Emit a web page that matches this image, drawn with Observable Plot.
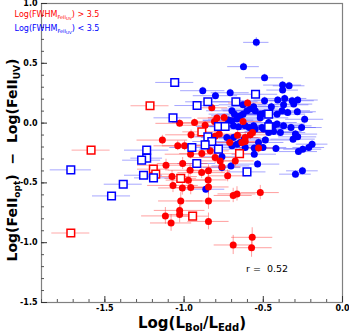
<!DOCTYPE html>
<html><head><meta charset="utf-8">
<script src="https://cdn.jsdelivr.net/npm/d3@7"></script>
<script src="https://cdn.jsdelivr.net/npm/@observablehq/plot@0.6"></script>
<style>body{margin:0;background:#fff} svg{font-family:"DejaVu Sans",sans-serif;background:#fff}</style>
</head><body><div id="chart"></div>
<script>
// [x, y, xerr, yerr]
const redCircles = [
[-0.825,0.128,0.10,0.03],[-0.599,0.168,0.12,0.03],[-1.028,-0.002,0.15,0.03],[-0.934,0.005,0.14,0.03],
[-0.867,-0.018,0.15,0.03],[-0.793,0.042,0.12,0.03],[-0.747,0.047,0.10,0.03],[-0.628,0.013,0.12,0.03],
[-0.956,-0.098,0.16,0.04],[-0.778,-0.092,0.14,0.04],[-0.804,-0.109,0.12,0.04],[-0.712,-0.162,0.12,0.04],
[-0.663,-0.101,0.12,0.04],[-0.582,-0.098,0.12,0.04],[-0.635,-0.162,0.10,0.04],[-1.137,-0.142,0.16,0.04],
[-1.040,-0.190,0.15,0.04],[-0.997,-0.190,0.14,0.04],[-0.959,-0.260,0.16,0.04],[-0.888,-0.255,0.14,0.04],
[-0.835,-0.232,0.12,0.04],[-0.804,-0.288,0.14,0.05],[-0.772,-0.316,0.12,0.05],[-0.677,-0.316,0.12,0.05],
[-1.114,-0.352,0.18,0.05],[-1.009,-0.338,0.16,0.05],[-0.962,-0.394,0.14,0.05],[-0.889,-0.414,0.15,0.05],
[-0.846,-0.399,0.14,0.05],[-0.725,-0.441,0.12,0.05],[-1.076,-0.447,0.16,0.05],[-0.973,-0.477,0.14,0.05],
[-0.848,-0.475,0.12,0.05],[-1.070,-0.521,0.16,0.06],[-1.011,-0.542,0.15,0.06],[-0.958,-0.539,0.12,0.06],
[-0.846,-0.534,0.13,0.06],[-0.690,-0.605,0.12,0.06],[-0.666,-0.592,0.12,0.06],[-0.519,-0.581,0.12,0.06],
[-1.021,-0.651,0.14,0.07],[-0.846,-0.651,0.14,0.07],[-1.028,-0.730,0.16,0.07],[-1.028,-0.764,0.10,0.07],
[-1.118,-0.776,0.15,0.07],[-1.082,-0.835,0.13,0.07],[-0.846,-0.822,0.13,0.07],[-0.570,-0.955,0.13,0.08],
[-0.690,-1.019,0.12,0.08],[-0.574,-1.042,0.13,0.08],[-0.614,-0.121,0.10,0.04],[-0.614,-0.154,0.10,0.04],
[-0.530,-0.209,0.12,0.04],[-0.761,-0.366,0.12,0.05],[-0.568,-0.079,0.10,0.04],[-0.808,0.013,0.12,0.03]
];
const blueCircles = [
[-0.544,0.675,0.08,0.04],[-0.625,0.472,0.10,0.03],[-0.492,0.379,0.12,0.03],[-0.378,0.318,0.12,0.03],
[-0.337,0.312,0.10,0.03],[-0.378,0.276,0.10,0.03],[-0.882,0.271,0.14,0.03],[-0.802,0.229,0.14,0.03],
[-0.709,0.254,0.12,0.03],[-0.492,0.187,0.16,0.03],[-0.409,0.193,0.15,0.03],[-0.365,0.206,0.14,0.03],
[-0.308,0.159,0.12,0.03],[-0.283,0.193,0.13,0.03],[-0.628,0.153,0.15,0.03],[-0.561,0.137,0.16,0.03],
[-0.372,0.153,0.16,0.03],[-0.382,0.103,0.18,0.03],[-0.449,0.137,0.16,0.03],[-0.239,0.032,0.12,0.03],
[-0.346,0.089,0.16,0.03],[-0.285,0.095,0.12,0.03],[-0.258,-0.037,0.13,0.03],[-0.325,-0.037,0.16,0.03],
[-0.372,-0.023,0.18,0.03],[-0.413,-0.008,0.18,0.03],[-0.519,0.075,0.18,0.03],[-0.551,0.103,0.16,0.03],
[-0.603,0.103,0.15,0.03],[-0.628,0.075,0.16,0.03],[-0.498,0.080,0.18,0.03],[-0.413,0.075,0.18,0.03],
[-0.561,-0.023,0.18,0.03],[-0.508,-0.037,0.18,0.03],[-0.435,-0.023,0.18,0.03],[-0.297,-0.092,0.14,0.03],
[-0.283,-0.115,0.12,0.03],[-0.312,-0.134,0.14,0.03],[-0.487,-0.142,0.16,0.03],[-0.435,-0.070,0.18,0.03],
[-0.530,-0.162,0.16,0.03],[-0.502,-0.204,0.15,0.03],[-0.420,-0.213,0.16,0.03],[-0.557,-0.209,0.15,0.03],
[-0.557,-0.260,0.14,0.03],[-0.278,-0.238,0.12,0.03],[-0.251,-0.218,0.12,0.03],[-0.536,-0.343,0.14,0.03],
[-0.297,-0.427,0.10,0.03],[-0.253,-0.399,0.10,0.03],[-0.720,0.025,0.16,0.03],[-0.761,-0.282,0.14,0.03],
[-0.761,-0.372,0.12,0.03],[-0.704,-0.358,0.12,0.03],[-0.863,-0.553,0.12,0.03],[-0.698,0.103,0.16,0.03],
[-0.682,0.075,0.16,0.03],[-0.646,0.061,0.18,0.03],[-0.666,0.034,0.18,0.03],[-0.698,0.019,0.18,0.03],
[-0.688,-0.023,0.18,0.03],[-0.656,-0.031,0.18,0.03],[-0.614,-0.023,0.18,0.03],[-0.589,-0.037,0.18,0.03],
[-0.730,-0.121,0.16,0.03],[-0.688,-0.121,0.16,0.03],[-0.620,-0.131,0.16,0.03],[-0.698,-0.190,0.14,0.03],
[-0.666,-0.176,0.14,0.03],[-0.614,-0.204,0.14,0.03],[-0.582,0.117,0.18,0.03],[-0.519,0.044,0.18,0.03],
[-0.466,0.005,0.18,0.03],[-0.551,-0.050,0.18,0.03],[-0.498,-0.050,0.18,0.03],[-0.466,-0.079,0.18,0.03],
[-0.392,-0.079,0.16,0.03],[-0.213,-0.204,0.10,0.03],[-0.192,-0.176,0.10,0.03],[-0.318,0.187,0.14,0.03],
[-0.646,-0.162,0.14,0.03]
];
const redSquares = [
[-1.215,0.145,0.12,0.02],[-1.587,-0.226,0.12,0.02],[-1.715,-0.919,0.12,0.02],[-0.888,-0.073,0.12,0.02],
[-1.194,-0.385,0.10,0.02],[-1.179,-0.427,0.10,0.02],[-1.021,-0.462,0.10,0.02],[-0.946,-0.778,0.10,0.02],
[-0.650,-0.255,0.12,0.02]
];
const blueSquares = [
[-1.059,0.340,0.12,0.02],[-0.918,0.147,0.14,0.02],[-0.850,0.178,0.14,0.02],[-0.673,0.178,0.14,0.02],
[-0.549,0.241,0.14,0.02],[-1.070,0.044,0.12,0.02],[-0.783,-0.028,0.14,0.02],[-0.741,-0.028,0.14,0.02],
[-0.466,0.075,0.14,0.02],[-0.466,-0.031,0.14,0.02],[-0.850,-0.115,0.12,0.02],[-0.825,-0.154,0.12,0.02],
[-0.951,-0.204,0.14,0.02],[-0.867,-0.182,0.14,0.02],[-0.783,-0.218,0.12,0.02],[-0.920,-0.338,0.12,0.02],
[-0.603,-0.408,0.12,0.02],[-1.236,-0.226,0.14,0.02],[-1.236,-0.293,0.10,0.02],[-1.268,-0.310,0.12,0.02],
[-1.715,-0.391,0.13,0.02],[-1.256,-0.436,0.12,0.02],[-1.193,-0.458,0.12,0.02],[-1.384,-0.511,0.12,0.02],
[-1.458,-0.609,0.12,0.02]
];
const xMajor = [-1.5,-1.0,-0.5,0.0];
const yMajor = [-1.5,-1.0,-0.5,0.0,0.5,1.0];
const xMinor = d3.range(-19,1).map(v => v/10);
const yMinor = d3.range(-15,11).map(v => v/10);
const rText = "r =  0.52";

const RED = "#ff0000", BLUE = "#0000ff";
const X = d=>d[0], Y = d=>d[1];
function bars(data, color, op) {
  return [
    Plot.ruleY(data, {y: Y, x1: d=>d[0]-d[2], x2: d=>d[0]+d[2], stroke: color, strokeOpacity: op, strokeWidth: 1}),
    Plot.ruleX(data, {x: X, y1: d=>d[1]-d[3], y2: d=>d[1]+d[3], stroke: color, strokeOpacity: op, strokeWidth: 1})
  ];
}
const chart = Plot.plot({
  width: 349, height: 332,
  marginLeft: 41, marginRight: 7, marginTop: 3, marginBottom: 30,
  x: {domain: [-1.9, 0], label: null},
  y: {domain: [-1.5, 1.0], label: null},
  style: {fontFamily: "DejaVu Sans, sans-serif"},
  marks: [
    ...bars(blueCircles, "#5050ff", 0.5),
    ...bars(blueSquares, "#5050ff", 0.5),
    ...bars(redCircles, "#ff4040", 0.5),
    ...bars(redSquares, "#ff4040", 0.45),
    Plot.dot(blueCircles, {x: X, y: Y, r: 3.5, fill: BLUE}),
    Plot.dot(redCircles, {x: X, y: Y, r: 3.5, fill: RED}),
    Plot.dot(redSquares, {x: X, y: Y, r: 4.3, symbol: "square", fill: "white", stroke: RED, strokeWidth: 1.5}),
    Plot.dot(blueSquares, {x: X, y: Y, r: 4.3, symbol: "square", fill: "white", stroke: BLUE, strokeWidth: 1.5}),
    Plot.frame({stroke: "#808080", strokeWidth: 1.2}),
    Plot.axisY(yMinor, {anchor: "left", tickSize: 3, dx: 3, tickFormat: () => "", label: null, stroke: "#555"}),
    Plot.axisY(yMajor, {anchor: "left", tickSize: 6, dx: 6, tickFormat: () => "", label: null, stroke: "#333"}),
    Plot.axisY(yMajor, {anchor: "left", tickSize: 0, tickPadding: 4, tickFormat: d => d.toFixed(1), label: null, fontWeight: "bold", fontSize: 8, fill: "#000"}),
    Plot.axisX(xMinor, {anchor: "bottom", tickSize: 3, dy: -3, tickFormat: () => "", label: null, stroke: "#555"}),
    Plot.axisX(xMajor, {anchor: "bottom", tickSize: 6, dy: -6, tickFormat: () => "", label: null, stroke: "#333"}),
    Plot.axisX(xMajor, {anchor: "bottom", tickSize: 0, tickPadding: 3, tickFormat: d => d.toFixed(1), label: null, fontWeight: "bold", fontSize: 8, fill: "#000"})
  ]
});
document.getElementById("chart").appendChild(chart);

const svg = d3.select(chart);
// legend
function legendLine(y, color, op) {
  const t = svg.append("text").attr("x", 57).attr("y", y).attr("font-size", 8).attr("fill", color);
  t.append("tspan").text("Log(FWHM");
  t.append("tspan").attr("font-size", 5).attr("dy", 2).text("FeII");
  t.append("tspan").attr("font-size", 4).attr("dy", 1).text("UV");
  t.append("tspan").attr("dy", -3).text(") " + op + " 3.5");
}
legendLine(17, RED, ">");
legendLine(31, BLUE, "<");
// r text
svg.append("text").attr("x", 267).attr("y", 272).attr("font-size", 9.5).attr("fill", "#000").text(rText);
// y label
{
  const t = svg.append("text").attr("transform", "translate(17,160) rotate(-90)").attr("text-anchor", "middle")
    .attr("font-size", 14).attr("font-weight", "bold").attr("fill", "#000");
  t.append("tspan").text("Log(FeII");
  t.append("tspan").attr("font-size", 9).attr("dy", 3).text("opt");
  t.append("tspan").attr("dy", -3).text(")  \u2212  Log(FeII");
  t.append("tspan").attr("font-size", 9).attr("dy", 3).text("UV");
  t.append("tspan").attr("dy", -3).text(")");
}
// x label
{
  const t = svg.append("text").attr("x", 192).attr("y", 328).attr("text-anchor", "middle")
    .attr("font-size", 15).attr("font-weight", "bold").attr("fill", "#000");
  t.append("tspan").text("Log(L");
  t.append("tspan").attr("font-size", 10).attr("dy", 2.5).text("Bol");
  t.append("tspan").attr("dy", -2.5).text("/L");
  t.append("tspan").attr("font-size", 10).attr("dy", 2.5).text("Edd");
  t.append("tspan").attr("dy", -2.5).text(")");
}
</script></body></html>
